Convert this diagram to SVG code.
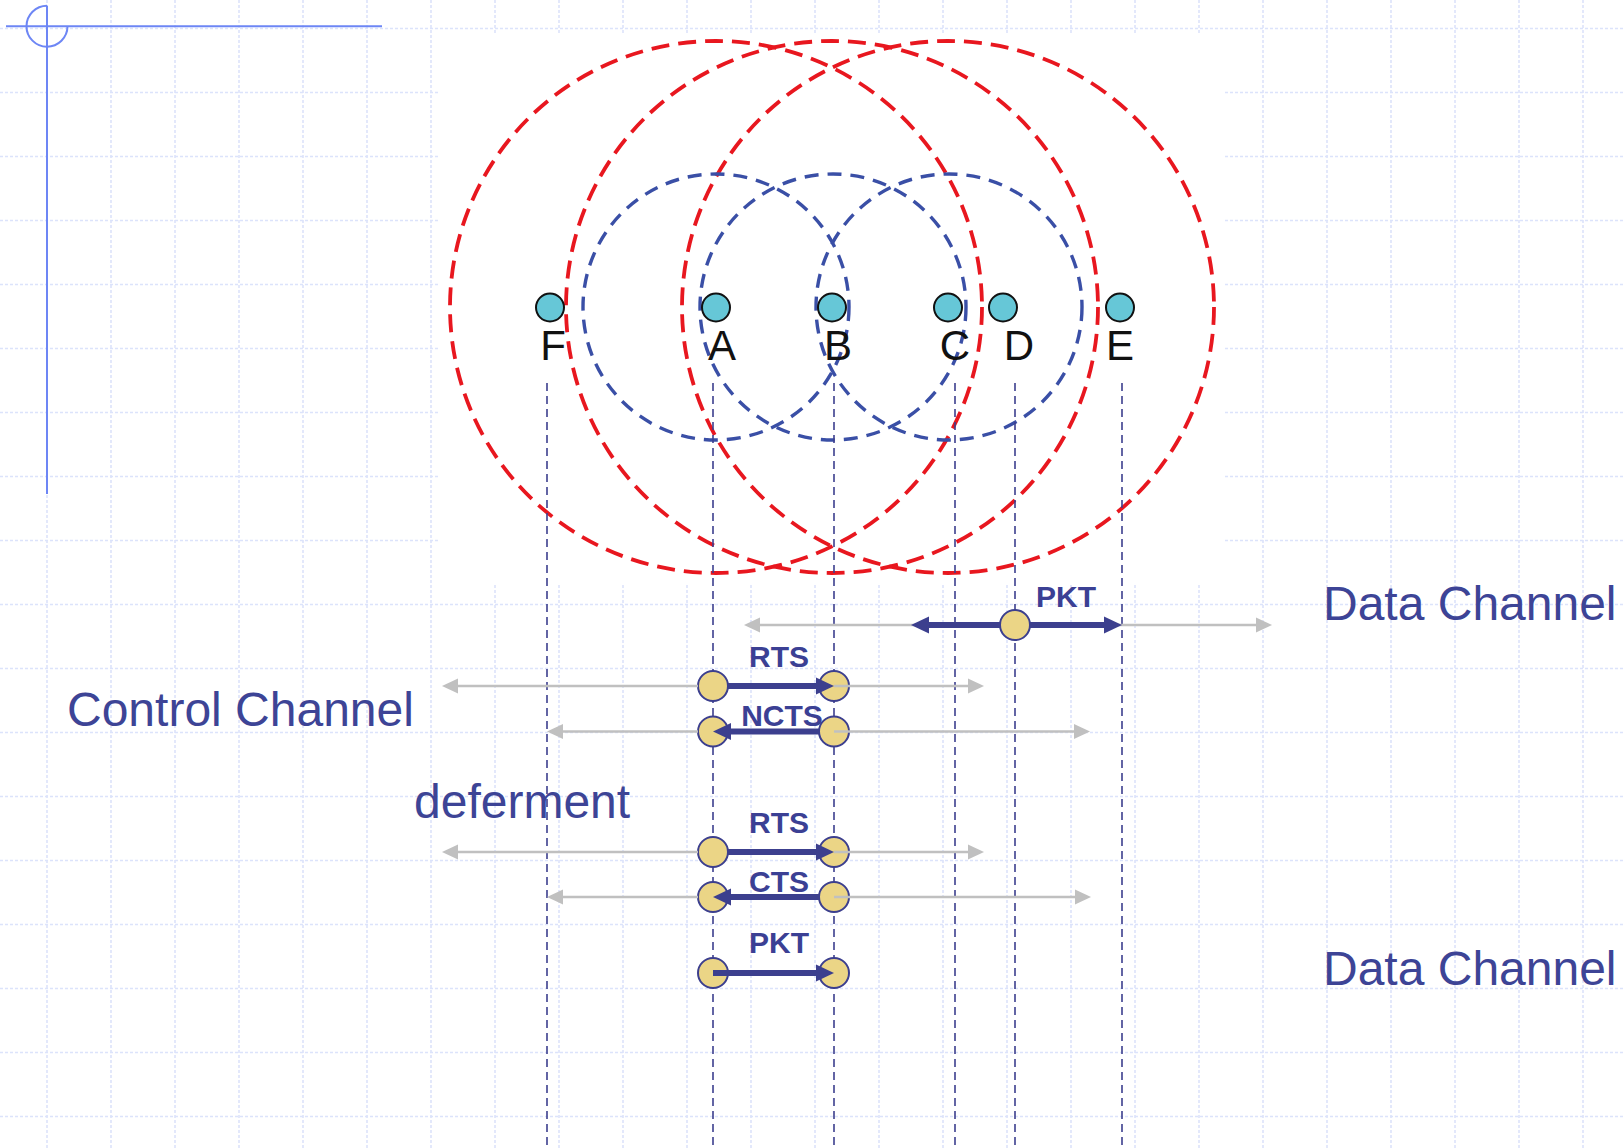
<svg xmlns="http://www.w3.org/2000/svg" width="1624" height="1148" viewBox="0 0 1624 1148">
<style>
.grid{stroke:#dce3fb;stroke-width:1.6;stroke-dasharray:3 2;fill:none}
.red{fill:none;stroke:#e8171f;stroke-width:3.8;stroke-dasharray:18 9}
.blue{fill:none;stroke:#3a4fa6;stroke-width:3.4;stroke-dasharray:14 9}
.guide{stroke:#3c3f8e;stroke-width:1.6;stroke-dasharray:8 5;fill:none}
.node{fill:#66c7d7;stroke:#111;stroke-width:2}
.nlab{font-family:"Liberation Sans",Arial,sans-serif;font-size:42px;fill:#111;text-anchor:middle}
.ynode{fill:#ebd586;stroke:#3c3f8e;stroke-width:2}
.msg{font-family:"Liberation Sans",Arial,sans-serif;font-size:30px;font-weight:bold;fill:#3b4094;text-anchor:middle}
.big{font-family:"Liberation Sans",Arial,sans-serif;font-size:48px;fill:#3d4496}
.dark{stroke:#3c3f8e;stroke-width:6;fill:none;marker-end:url(#hd)}
.gray{stroke:#c0c0c0;stroke-width:2.5;fill:none;marker-end:url(#hg)}
.deco{stroke:#6d86f5;stroke-width:2;fill:none}
</style>
<defs>
<marker id="hd" markerUnits="userSpaceOnUse" markerWidth="18" markerHeight="18" refX="0" refY="9" orient="auto" viewBox="0 0 18 18"><path d="M0,0.5 L18,9 L0,17.5 z" fill="#3c3f8e"/></marker>
<marker id="hg" markerUnits="userSpaceOnUse" markerWidth="16" markerHeight="16" refX="0" refY="8" orient="auto" viewBox="0 0 16 16"><path d="M0,0.5 L16,8 L0,15.5 z" fill="#c0c0c0"/></marker>
</defs>
<rect x="0" y="0" width="1624" height="1148" fill="#ffffff"/>
<g id="grid">
<path class="grid" d="M47 0V1148M111 0V1148M175 0V1148M239 0V1148M303 0V1148M367 0V1148M431 0V1148M495 0V1148M559 0V1148M623 0V1148M687 0V1148M751 0V1148M815 0V1148M879 0V1148M943 0V1148M1007 0V1148M1071 0V1148M1135 0V1148M1199 0V1148M1263 0V1148M1327 0V1148M1391 0V1148M1455 0V1148M1519 0V1148M1583 0V1148"/>
<path class="grid" d="M0 28.5H1624M0 92.5H1624M0 156.5H1624M0 220.5H1624M0 284.5H1624M0 348.5H1624M0 412.5H1624M0 476.5H1624M0 540.5H1624M0 604.5H1624M0 668.5H1624M0 732.5H1624M0 796.5H1624M0 860.5H1624M0 924.5H1624M0 988.5H1624M0 1052.5H1624M0 1116.5H1624"/>
<rect x="439" y="34" width="785" height="549" fill="#ffffff"/>
</g>
<g id="decoration">
<path class="deco" d="M6 26.3H382M47 5.7V494"/>
<path class="deco" d="M47 5.7 A20.5 20.5 0 1 0 67.5 26.3"/>
</g>
<g id="ranges">
<circle class="red" cx="716" cy="307" r="266"/>
<circle class="red" cx="832" cy="307" r="266"/>
<circle class="red" cx="948" cy="307" r="266"/>
<circle class="blue" cx="716" cy="307" r="133"/>
<circle class="blue" cx="833" cy="307" r="133"/>
<circle class="blue" cx="949" cy="307" r="133"/>
</g>
<g id="guides">
<path class="guide" d="M547 383V1148M713 383V1148M834 383V1148M955 383V1148M1015 383V1148M1122 383V1148"/>
</g>
<g id="node-F"><circle class="node" cx="550" cy="307.5" r="14"/><text class="nlab" x="553" y="360">F</text></g>
<g id="node-A"><circle class="node" cx="716" cy="307.5" r="14"/><text class="nlab" x="722" y="360">A</text></g>
<g id="node-B"><circle class="node" cx="832" cy="307.5" r="14"/><text class="nlab" x="838" y="360">B</text></g>
<g id="node-C"><circle class="node" cx="948" cy="307.5" r="14"/><text class="nlab" x="955" y="360">C</text></g>
<g id="node-D"><circle class="node" cx="1003" cy="307.5" r="14"/><text class="nlab" x="1019" y="360">D</text></g>
<g id="node-E"><circle class="node" cx="1120" cy="307.5" r="14"/><text class="nlab" x="1120" y="360">E</text></g>
<g id="labels">
<text class="big" x="1323" y="620">Data Channel</text>
<text class="big" x="1323" y="985">Data Channel</text>
<text class="big" x="67" y="726">Control Channel</text>
<text class="big" x="414" y="818">deferment</text>
</g>
<g id="pkt1-D"><circle class="ynode" cx="1015" cy="625" r="15"/></g>
<g id="rts1-A"><circle class="ynode" cx="713" cy="686" r="15"/></g>
<g id="rts1-B"><circle class="ynode" cx="834" cy="686" r="15"/></g>
<g id="ncts-A"><circle class="ynode" cx="713" cy="731.5" r="15"/></g>
<g id="ncts-B"><circle class="ynode" cx="834" cy="731.5" r="15"/></g>
<g id="rts2-A"><circle class="ynode" cx="713" cy="852" r="15"/></g>
<g id="rts2-B"><circle class="ynode" cx="834" cy="852" r="15"/></g>
<g id="cts-A"><circle class="ynode" cx="713" cy="897" r="15"/></g>
<g id="cts-B"><circle class="ynode" cx="834" cy="897" r="15"/></g>
<g id="pkt2-A"><circle class="ynode" cx="713" cy="973" r="15"/></g>
<g id="pkt2-B"><circle class="ynode" cx="834" cy="973" r="15"/></g>
<g id="connectors">
<path class="gray" d="M1000 625H760"/>
<path class="gray" d="M1030 625H1256"/>
<path class="dark" d="M1000 625H929"/>
<path class="dark" d="M1030 625H1104"/>
<path class="gray" d="M698 686H458"/>
<path class="gray" d="M834 686H968"/>
<path class="dark" d="M728 686H816"/>
<path class="gray" d="M698 731.5H563"/>
<path class="gray" d="M834 731.5H1074"/>
<path class="dark" d="M819 731.5H731"/>
<path class="gray" d="M698 852H458"/>
<path class="gray" d="M834 852H968"/>
<path class="dark" d="M728 852H816"/>
<path class="gray" d="M698 897H563"/>
<path class="gray" d="M834 897H1075"/>
<path class="dark" d="M819 897H731"/>
<path class="dark" d="M713 973H816"/>
</g>
<g id="message-labels">
<text class="msg" x="1066" y="607">PKT</text>
<text class="msg" x="779" y="667">RTS</text>
<text class="msg" x="782" y="726">NCTS</text>
<text class="msg" x="779" y="833">RTS</text>
<text class="msg" x="779" y="892">CTS</text>
<text class="msg" x="779" y="953">PKT</text>
</g>
</svg>
